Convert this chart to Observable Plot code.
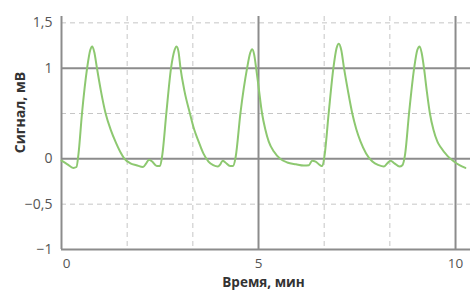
<!DOCTYPE html>
<html><head><meta charset="utf-8">
<script src="https://cdn.jsdelivr.net/npm/d3@7"></script>
<script src="https://cdn.jsdelivr.net/npm/@observablehq/plot@0.6"></script>
<style>body{margin:0;background:#fff} #chart svg{display:block}</style>
</head><body><div id="chart"></div>
<script>
const timeMin = [
  0, 0.15, 0.3, 0.38, 0.43, 0.52, 0.65, 0.73, 0.78, 0.83, 0.9, 1.0, 1.12, 1.25, 1.37, 1.5, 1.6, 1.75, 1.9, 2.07, 2.15, 2.22, 2.3, 2.42, 2.5,
  2.56, 2.66, 2.78, 2.87, 2.92, 2.97, 3.02, 3.12, 3.26, 3.37, 3.48, 3.6, 3.73, 3.85, 3.97, 4.03, 4.09, 4.16, 4.28, 4.35,
  4.42, 4.54, 4.71, 4.79, 4.84, 4.89, 4.94, 5.0, 5.09, 5.17, 5.26, 5.39, 5.55, 5.73, 5.95, 6.15, 6.28, 6.36, 6.45, 6.56, 6.62,
  6.68, 6.78, 6.9, 6.98, 7.04, 7.1, 7.17, 7.27, 7.38, 7.48, 7.59, 7.73, 7.89, 8.05, 8.18, 8.27, 8.35, 8.45, 8.58, 8.65,
  8.72, 8.82, 8.95, 9.03, 9.09, 9.14, 9.2, 9.27, 9.35, 9.44, 9.54, 9.62, 9.8, 9.96, 10.1, 10.25
];
const signalMv = [
  -0.02, -0.06, -0.1, -0.09, 0.05, 0.5, 1.0, 1.2, 1.24, 1.18, 1.0, 0.75, 0.5, 0.32, 0.19, 0.07, 0.0, -0.05, -0.07, -0.09, -0.05, -0.01, -0.03, -0.08, -0.08,
  0.05, 0.5, 1.0, 1.2, 1.24, 1.18, 1.0, 0.75, 0.5, 0.32, 0.19, 0.06, -0.03, -0.07, -0.085, -0.06, -0.02, -0.04, -0.08, -0.08,
  0.02, 0.5, 1.0, 1.17, 1.21, 1.15, 1.0, 0.8, 0.5, 0.33, 0.19, 0.08, 0.0, -0.04, -0.06, -0.074, -0.07, -0.02, -0.03, -0.07, -0.08,
  0.05, 0.5, 1.0, 1.22, 1.27, 1.2, 1.0, 0.75, 0.5, 0.33, 0.19, 0.06, -0.03, -0.07, -0.085, -0.05, -0.02, -0.05, -0.085, -0.07,
  0.05, 0.5, 1.0, 1.2, 1.24, 1.17, 1.0, 0.75, 0.5, 0.32, 0.19, 0.13, 0.03, -0.03, -0.07, -0.1
];
const yTicks = [-1, -0.5, 0, 1, 1.5];
const yTickLabels = ["−1", "−0,5", "0", "1", "1,5"];
const xTicks = [0, 5, 10];
const xTickLabels = ["0", "5", "10"];
const solidX = [5, 10];
const dashedX = [5/3, 10/3, 20/3, 25/3];
const solidY = [0, 1];
const dashedY = [-0.5, 0.5, 1.5];
const xTitle = "Время, мин";
const yTitle = "Сигнал, мВ";

const data = timeMin.map((t, i) => ({t, v: signalMv[i]}));
const gridSolid = "#8c8c8c";
const gridDash = "#c6c6c6";
const tickColor = "#555";

const chart = Plot.plot({
  width: 470, height: 291,
  marginLeft: 61, marginRight: 0, marginTop: 16, marginBottom: 42,
  x: {domain: [0, 10.38], axis: null},
  y: {domain: [-1, 1.57], axis: null},
  style: {fontFamily: "'Open Sans', sans-serif", background: "#fff"},
  marks: [
    Plot.ruleX(dashedX, {stroke: gridDash, strokeWidth: 1, strokeDasharray: "5,4"}),
    Plot.ruleY(dashedY, {stroke: gridDash, strokeWidth: 1, strokeDasharray: "5,4"}),
    Plot.ruleY(solidY, {stroke: gridSolid, strokeWidth: 2}),
    Plot.ruleX(solidX, {stroke: gridSolid, strokeWidth: 2}),
    Plot.ruleX([0], {stroke: gridSolid, strokeWidth: 2}),
    Plot.ruleY([-1], {stroke: gridSolid, strokeWidth: 2}),
    Plot.line(data, {x: "t", y: "v", curve: "monotone-x", stroke: "#8dc870", strokeWidth: 2}),
    Plot.text(yTicks, {y: d => d, text: (d, i) => yTickLabels[i], frameAnchor: "left", textAnchor: "end", lineAnchor: "middle", dx: -9, fontSize: 14, fill: tickColor}),
    Plot.text(xTicks.filter(d => d !== 0), {x: d => d, text: d => xTickLabels[xTicks.indexOf(d)], frameAnchor: "bottom", textAnchor: "middle", lineAnchor: "middle", dy: 14.5, fontSize: 13.5, fill: tickColor}),
    Plot.text(xTicks.filter(d => d === 0), {x: d => d, text: d => xTickLabels[xTicks.indexOf(d)], frameAnchor: "bottom", textAnchor: "middle", lineAnchor: "middle", dy: 14.5, dx: 5, fontSize: 13.5, fill: tickColor}),
    Plot.text([xTitle], {frameAnchor: "bottom", textAnchor: "middle", lineAnchor: "middle", dy: 33.5, dx: -2.5, fontSize: 13.5, fontWeight: "bold", fill: "#333"}),
    Plot.text([yTitle], {frameAnchor: "top-left", textAnchor: "middle", lineAnchor: "middle", dx: -41, dy: 96, rotate: -90, fontSize: 14, fontWeight: "bold", fill: "#333"})
  ]
});
document.getElementById("chart").appendChild(chart);
</script></body></html>
